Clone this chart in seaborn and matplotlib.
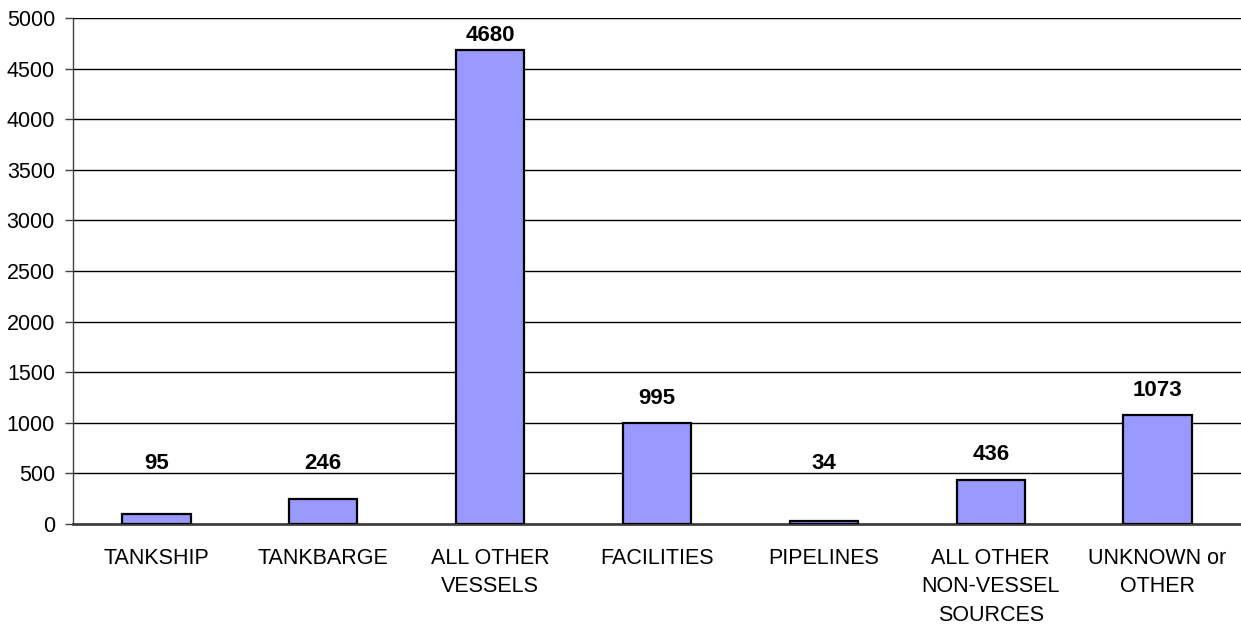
import numpy as np
import pandas as pd
import matplotlib
matplotlib.use("Agg")
import matplotlib.pyplot as plt
import seaborn as sns

sns.set_style("white")
plt.rcParams['font.family'] = ['Liberation Sans', 'DejaVu Sans']
plt.rcParams['text.color'] = 'black'
plt.rcParams['xtick.color'] = 'black'
plt.rcParams['ytick.color'] = 'black'

categories = ["TANKSHIP", "TANKBARGE", "ALL OTHER\nVESSELS", "FACILITIES",
              "PIPELINES", "ALL OTHER\nNON-VESSEL\nSOURCES", "UNKNOWN or\nOTHER"]
counts = [95, 246, 4680, 995, 34, 436, 1073]
yticks = list(range(0, 5001, 500))

df = pd.DataFrame({"source": categories, "count": counts})

fig = plt.figure(figsize=(12.41, 6.24), dpi=100)
ax = fig.add_axes([73 / 1241, 1 - 524 / 624, 1 - 73 / 1241, (524 - 18) / 624])

sns.barplot(data=df, x="source", y="count", color="#9999FF", saturation=1,
            edgecolor="black", linewidth=1.6, width=0.41, ax=ax, zorder=3)

ax.set_ylim(0, 5000)
ax.set_xlim(-0.5, len(categories) - 0.5)
ax.set_yticks(yticks)
ax.set_yticklabels([str(t) for t in yticks], fontsize=15.5)
ax.yaxis.grid(True, color="black", linewidth=1.0, zorder=0)
ax.set_axisbelow(True)

# category labels, ticks at category boundaries
ax.set_xticks(range(len(categories)))
ax.set_xticklabels(categories, fontsize=15.5, linespacing=1.48, va="top")
ax.tick_params(axis="x", which="major", length=0, pad=17)
ax.set_xticks(np.arange(-0.5, len(categories), 1.0), minor=True)
ax.tick_params(axis="x", which="minor", length=6, width=1, color="#404040", direction="out")
ax.tick_params(axis="y", length=6, width=1, color="#404040", labelcolor="black",
               direction="out", left=True, pad=7)

ax.set_xlabel("")
ax.set_ylabel("")
for s in ["top", "right"]:
    ax.spines[s].set_visible(False)
ax.spines["left"].set_color("#404040")
ax.spines["bottom"].set_color("#404040")
ax.spines["bottom"].set_linewidth(2)
ax.spines["left"].set_linewidth(1)

# value labels above bars
for i, v in enumerate(counts):
    y = min(max(v, 350) + 250, 4830)
    ax.text(i, y, str(v), ha="center", va="center", fontsize=16,
            fontweight="bold", color="black")

fig.savefig("out.png", dpi=100)
